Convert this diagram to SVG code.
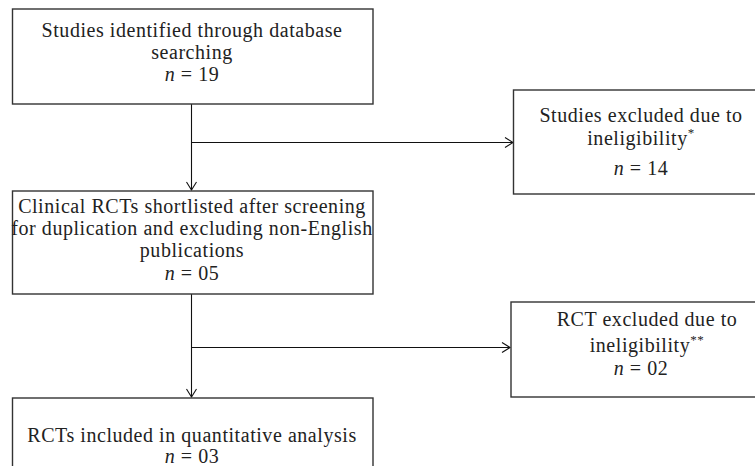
<svg xmlns="http://www.w3.org/2000/svg" width="755" height="466" viewBox="0 0 755 466">
<defs>
<marker id="arr" markerWidth="12" markerHeight="12" refX="10" refY="6" orient="auto" markerUnits="userSpaceOnUse">
<path d="M2,1 L10,6 L2,11" fill="none" stroke="#111" stroke-width="1.1"/>
</marker>
<style>
.box{fill:#fff;stroke:#333;stroke-width:1.4}
.t{font-family:"Liberation Serif","Times New Roman",serif;font-size:20px;fill:#222;text-anchor:middle;letter-spacing:0.55px}
.i{font-style:italic}
.c{fill:none;stroke:#111;stroke-width:1.1}
.sup{font-size:13px}
</style>
</defs>
<rect width="755" height="466" fill="#fff"/>
<g id="connectors">
<line class="c" x1="191.5" y1="104" x2="191.5" y2="190" marker-end="url(#arr)"/>
<line class="c" x1="191.5" y1="142.5" x2="513" y2="142.5" marker-end="url(#arr)"/>
<line class="c" x1="191.5" y1="294" x2="191.5" y2="397" marker-end="url(#arr)"/>
<line class="c" x1="191.5" y1="347.5" x2="510" y2="347.5" marker-end="url(#arr)"/>
</g>
<g id="n1">
<rect class="box" x="12.5" y="9" width="360.5" height="95"/>
<text class="t" x="192" y="37">Studies identified through database</text>
<text class="t" x="192" y="59">searching</text>
<text class="t" x="192" y="81"><tspan class="i">n</tspan> = 19</text>
</g>
<g id="n2">
<rect class="box" x="513.5" y="90" width="260" height="104"/>
<text class="t" x="641" y="122">Studies excluded due to</text>
<text class="t" x="641" y="145">ineligibility<tspan class="sup" dy="-8">*</tspan></text>
<text class="t" x="641" y="175"><tspan class="i">n</tspan> = 14</text>
</g>
<g id="n3">
<rect class="box" x="12.5" y="191" width="360.5" height="103"/>
<text class="t" x="192" y="213">Clinical RCTs shortlisted after screening</text>
<text class="t" x="192" y="235">for duplication and excluding non-English</text>
<text class="t" x="192" y="257">publications</text>
<text class="t" x="192" y="280"><tspan class="i">n</tspan> = 05</text>
</g>
<g id="n4">
<rect class="box" x="511" y="302" width="260" height="95"/>
<text class="t" x="647" y="326">RCT excluded due to</text>
<text class="t" x="647" y="352">ineligibility<tspan class="sup" dy="-8">**</tspan></text>
<text class="t" x="641" y="375"><tspan class="i">n</tspan> = 02</text>
</g>
<g id="n5">
<rect class="box" x="12.5" y="398" width="360.5" height="90"/>
<text class="t" x="192" y="442">RCTs included in quantitative analysis</text>
<text class="t" x="192" y="463"><tspan class="i">n</tspan> = 03</text>
</g>
</svg>
